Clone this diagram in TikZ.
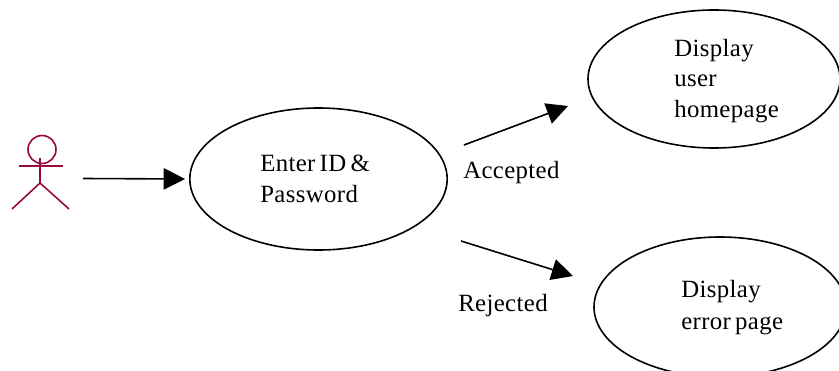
\documentclass[tikz,border=0pt]{standalone}
\usepackage{fontspec}
\setmainfont[WordSpace=0.65,LetterSpace=1.5]{Liberation Serif}
\usetikzlibrary{arrows.meta,shapes.geometric}
\definecolor{actorc}{RGB}{150,10,65}
\tikzset{
  uc/.style={draw=black,line width=1.2pt,ellipse,inner sep=0pt},
  lbl/.style={inner sep=0pt,font=\fontsize{18.6pt}{18.6pt}\selectfont,anchor=base west},
  conn/.style={draw=black,line width=1.2pt,-{Triangle[length=16pt,width=16pt]}},
  actorline/.style={draw=actorc,line width=1.2pt}
}
\begin{document}
\begin{tikzpicture}[x=0.75pt,y=-0.75pt]
\useasboundingbox (0,0) rectangle (839,371);
\begin{scope}
\clip (0,0) rectangle (839,371);
\node[uc,minimum width=193pt,minimum height=106.5pt] (enter) at (318.5,179) {};
\node[uc,minimum width=189pt,minimum height=103.5pt] (home) at (714,79) {};
\node[uc,minimum width=189pt,minimum height=105pt] (err) at (720,307) {};
\end{scope}
\node[lbl] (t1a) at (260,171) {Enter ID \&};
\node[lbl] (t1b) at (260,202) {Password};
\node[lbl] (t2a) at (674,56) {Display};
\node[lbl] (t2b) at (674,86) {user};
\node[lbl] (t2c) at (674,117) {homepage};
\node[lbl] (t3a) at (681,297) {Display};
\node[lbl] (t3b) at (681,329) {error page};
\node[lbl] (acc) at (463,178) {Accepted};
\node[lbl] (rej) at (458,311) {Rejected};
\coordinate (a0) at (83,178.5);
\coordinate (b0) at (464,145);
\coordinate (b1) at (568,106);
\coordinate (c0) at (461,241);
\coordinate (c1) at (573,276);
\draw[conn,shorten >=3pt] (a0) -- (enter.west);
\draw[conn] (b0) -- (b1);
\draw[conn] (c0) -- (c1);
\coordinate (head) at (42,149.5);
\coordinate (neck) at (40,158);
\coordinate (hip) at (40,183);
\coordinate (armL) at (19,166);
\coordinate (armR) at (63,166);
\coordinate (legL) at (12,209);
\coordinate (legR) at (69,209);
\draw[actorline] (head) circle[radius=10.5pt];
\draw[actorline] (neck) -- (hip);
\draw[actorline] (armL) -- (armR);
\draw[actorline] (legL) -- (hip) -- (legR);
\end{tikzpicture}
\end{document}
